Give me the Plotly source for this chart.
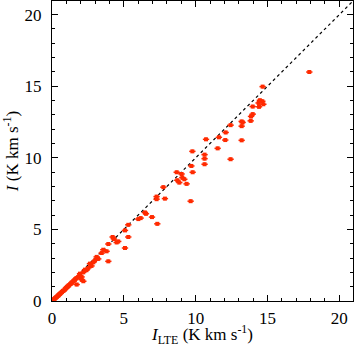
import plotly.graph_objects as go

# integrated intensity, LTE estimate vs observed (K km s^-1)
i_lte = [
    0.05, 0.10, 0.15, 0.20, 0.25, 0.30, 0.35, 0.40, 0.45, 0.50,
    0.55, 0.60, 0.70, 0.75, 0.80, 0.90, 0.95, 1.00, 1.05, 1.10,
    1.15, 1.20, 1.30, 1.35, 1.40, 1.50, 1.55, 1.60, 1.70, 1.72,
    1.80, 1.90, 1.95, 2.06, 2.06, 2.18, 2.18, 2.30, 2.40, 2.53,
    2.64, 2.75, 2.88, 3.00, 3.11, 3.22, 3.46, 3.57, 3.80, 3.92,
    3.92, 4.22, 4.31, 4.50, 4.61, 5.08, 5.08, 5.31, 5.31,
    6.01, 6.17, 6.47, 6.54, 6.96, 7.33, 7.28, 7.28, 7.86, 7.75,
    9.65, 8.68, 9.02, 9.07, 8.72, 9.21, 8.86, 9.37, 9.79, 9.70,
    10.62, 10.62, 10.62, 9.77, 10.72, 11.53, 11.62, 12.06, 12.09, 12.43,
    12.43, 13.20, 13.20, 13.27, 13.20, 13.83, 13.85, 13.97, 13.97, 14.41,
    14.38, 14.71, 14.64, 14.47, 14.66, 17.91,
]
i_obs = [
    0.04, 0.08, 0.12, 0.18, 0.22, 0.27, 0.30, 0.36, 0.40, 0.45,
    0.50, 0.55, 0.62, 0.70, 0.72, 0.80, 0.88, 0.92, 0.98, 1.02,
    1.08, 1.10, 1.20, 1.27, 1.30, 1.38, 1.45, 1.50, 1.60, 1.15,
    1.65, 1.75, 1.91, 1.68, 1.50, 2.00, 1.38, 2.19, 2.15, 2.31,
    2.61, 2.45, 2.70, 2.85, 3.08, 2.94, 3.35, 3.58, 3.47, 2.77,
    3.98, 4.47, 4.33, 4.09, 4.16, 3.70, 4.93, 4.47, 5.32,
    5.72, 5.79, 6.18, 6.09, 5.86, 5.39, 7.29, 7.11, 7.15, 7.95,
    6.97, 8.99, 8.87, 8.62, 8.43, 8.50, 8.27, 8.18, 8.99, 9.43,
    10.22, 9.94, 9.55, 10.45, 11.29, 10.66, 11.43, 11.24, 11.77, 12.28,
    9.90, 12.54, 12.21, 12.47, 11.22, 12.58, 12.89, 13.05, 13.58, 13.56,
    13.83, 13.74, 13.95, 14.02, 14.97, 15.99,
]
err_lte = 0.22
err_obs = 0.12

one_to_one = [0, 21]

red = "#ff2a00"
font_name = "'Liberation Serif', 'Times New Roman', 'DejaVu Serif', serif"

fig = go.Figure()

fig.add_trace(
    go.Scatter(
        x=one_to_one,
        y=one_to_one,
        mode="lines",
        line=dict(color="black", width=1.2, dash="dot"),
        hoverinfo="skip",
    )
)

fig.add_trace(
    go.Scatter(
        x=i_lte,
        y=i_obs,
        mode="markers",
        marker=dict(color=red, size=4, symbol="square"),
        error_x=dict(type="constant", value=err_lte, color=red, thickness=1.5, width=0),
        error_y=dict(type="constant", value=err_obs, color=red, thickness=1.5, width=0),
    )
)

axis_style = dict(
    range=[0, 20.95],
    automargin=False,
    showgrid=False,
    zeroline=False,
    showline=True,
    linecolor="black",
    linewidth=1,
    mirror="ticks",
    ticks="inside",
    ticklen=6,
    tickwidth=1,
    tickcolor="black",
    dtick=5,
    tick0=0,
    minor=dict(ticks="inside", ticklen=3, dtick=1, tickcolor="black", showgrid=False),
    tickfont=dict(family=font_name, size=17, color="black"),
)

fig.update_xaxes(
    **axis_style,
    ticklabelstandoff=2,
    title=dict(
        text="<i>I</i><sub>LTE</sub> (K km s<sup>-1</sup>)",
        font=dict(family=font_name, size=17, color="black"),
        standoff=2,
    ),
)
fig.update_yaxes(
    **axis_style,
    ticklabelstandoff=6,
    title=dict(
        text="<i>I</i> (K km s<sup>-1</sup>)",
        font=dict(family=font_name, size=17, color="black"),
        standoff=8,
    ),
)

fig.update_layout(
    width=354,
    height=347,
    margin=dict(l=52, r=1, t=1, b=46),
    font=dict(family=font_name, color="black"),
    plot_bgcolor="white",
    paper_bgcolor="white",
    showlegend=False,
)

# page body has a default 8px margin, drop it so the figure sits at 0,0
fig.write_html(
    "out.html",
    config={"displayModeBar": False},
    post_script="document.body.style.margin='0';document.body.style.overflow='hidden';",
)
